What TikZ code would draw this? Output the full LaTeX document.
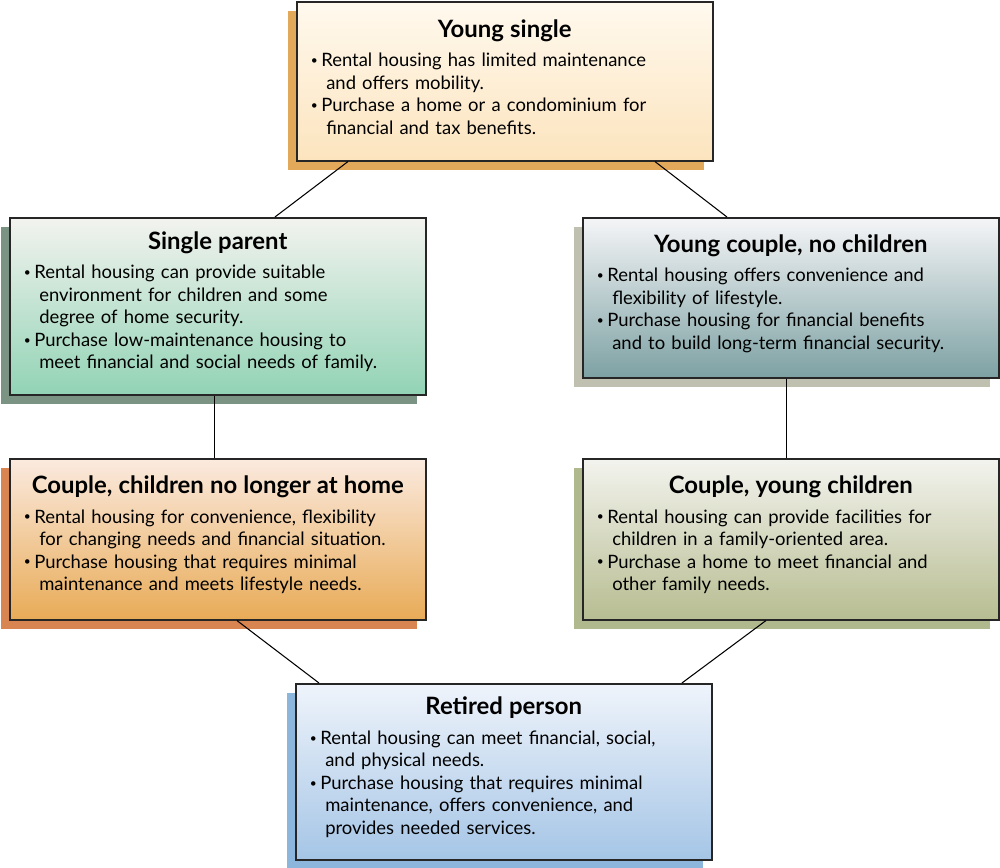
\documentclass[tikz,border=0pt]{standalone}
\usepackage{fontspec}
\setmainfont{Lato}
\usetikzlibrary{shadows, calc}
\definecolor{ysTop}{HTML}{FFF9EE}
\definecolor{ysBot}{HTML}{FCE4BE}
\definecolor{ysShd}{HTML}{E3A95A}
\definecolor{spTop}{HTML}{F3F3EF}
\definecolor{spBot}{HTML}{92D3B5}
\definecolor{spShd}{HTML}{7A9383}
\definecolor{ycTop}{HTML}{F5F5F7}
\definecolor{ycBot}{HTML}{7DA1A3}
\definecolor{ycShd}{HTML}{C0C0B0}
\definecolor{cnTop}{HTML}{FBEADF}
\definecolor{cnBot}{HTML}{E8AB57}
\definecolor{cnShd}{HTML}{D98552}
\definecolor{cyTop}{HTML}{F3F3EE}
\definecolor{cyBot}{HTML}{B7BD91}
\definecolor{cyShd}{HTML}{AFB98D}
\definecolor{rpTop}{HTML}{EFF4FB}
\definecolor{rpBot}{HTML}{A5C5E6}
\definecolor{rpShd}{HTML}{8DB6DC}
\newcommand{\hd}[1]{{\centering\fontsize{13.6pt}{16pt}\selectfont\bfseries #1\par}\vspace{4pt}}
\newcommand{\bul}[1]{\hangindent=0.31cm\hangafter=1\noindent
  \makebox[0.21cm][l]{\raisebox{0.25ex}{\scalebox{0.65}{\textbullet}}}#1\par}

\begin{document}
\begin{tikzpicture}[x=0.02cm, y=-0.02cm,
    bx/.style n args={3}{draw=black!85, line width=0.9pt, rectangle, anchor=north west,
      top color=#1, bottom color=#2,
      drop shadow={shadow xshift=-0.18cm, shadow yshift=-0.18cm, opacity=1, fill=#3},
      minimum width=8.32cm, inner xsep=0.28cm, text width=7.76cm, align=left,
      font=\fontsize{10.5pt}{12.8pt}\selectfont, execute at end node={\vspace{5pt}}},
    ln/.style={draw=black, line width=0.6pt}]
\useasboundingbox (0,0) rectangle (1000,868);
\node[bx={ysTop}{ysBot}{ysShd}, minimum height=3.18cm] (ys) at (296,1) {\hd{Young single}
  \bul{Rental housing has limited maintenance\newline and offers mobility.}
  \bul{Purchase a home or a condominium for\newline financial and tax benefits.}};
\node[bx={spTop}{spBot}{spShd}, minimum height=3.54cm] (sp) at (9,217) {\hd{Single parent}
  \bul{Rental housing can provide suitable\newline environment for children and some\newline degree of home security.}
  \bul{Purchase low-maintenance housing to\newline meet financial and social needs of family.}};
\node[bx={ycTop}{ycBot}{ycShd}, minimum height=3.2cm] (yc) at (582,217) {\hd{Young couple, no children}
  \bul{Rental housing offers convenience and\newline flexibility of lifestyle.}
  \bul{Purchase housing for financial benefits\newline and to build long-term financial security.}};
\node[bx={cnTop}{cnBot}{cnShd}, minimum height=3.22cm] (cn) at (9,458) {\hd{Couple, children no longer at home}
  \bul{Rental housing for convenience, flexibility\newline for changing needs and financial situation.}
  \bul{Purchase housing that requires minimal\newline maintenance and meets lifestyle needs.}};
\node[bx={cyTop}{cyBot}{cyShd}, minimum height=3.22cm] (cy) at (582,458) {\hd{Couple, young children}
  \bul{Rental housing can provide facilities for\newline children in a family-oriented area.}
  \bul{Purchase a home to meet financial and\newline other family needs.}};
\node[bx={rpTop}{rpBot}{rpShd}, minimum height=3.52cm] (rp) at (295,683) {\hd{Retired person}
  \bul{Rental housing can meet financial, social,\newline and physical needs.}
  \bul{Purchase housing that requires minimal\newline maintenance, offers convenience, and\newline provides needed services.}};
% links between life stages
\draw[ln] ([xshift=1.04cm]ys.south west) -- ([xshift=5.32cm]sp.north west);
\draw[ln] ([xshift=7.18cm]ys.south west) -- ([xshift=2.9cm]yc.north west);
\draw[ln] ([xshift=4.12cm]sp.south west) -- ([xshift=4.12cm]cn.north west);
\draw[ln] ([xshift=4.1cm]yc.south west) -- ([xshift=4.1cm]cy.north west);
\draw[ln] ([xshift=4.56cm]cn.south west) -- ([xshift=0.48cm]rp.north west);
\draw[ln] ([xshift=3.68cm]cy.south west) -- ([xshift=7.74cm]rp.north west);
\end{tikzpicture}
\end{document}
